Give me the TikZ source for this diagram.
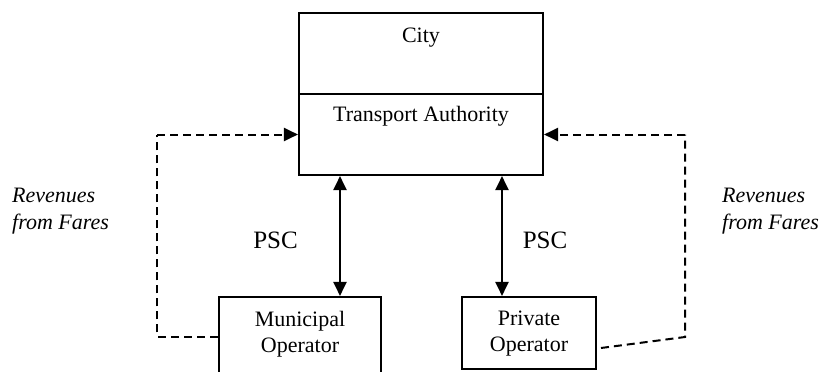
\documentclass[tikz,border=0pt]{standalone}
\usepackage{fontspec}
\setmainfont{Liberation Serif}
\usetikzlibrary{arrows.meta,calc}
\begin{document}
\begin{tikzpicture}[x=1pt,y=-1pt,
  box/.style={draw,line width=2.1pt,rectangle,inner sep=0pt},
  txt/.style={font=\fontsize{22}{26}\selectfont,inner sep=0pt},
  btxt/.style={font=\fontsize{25}{30}\selectfont,inner sep=0pt},
  itxt/.style={font=\fontsize{22}{27}\selectfont\itshape,inner sep=0pt,align=left},
  dline/.style={line width=2pt,dash pattern=on 8pt off 5pt},
  tip/.style={-{Triangle[length=14pt,width=13pt]}},
  dtip/.style={{Triangle[length=14pt,width=13pt]}-{Triangle[length=14pt,width=13pt]}}]
\clip (0,0) rectangle (823,372);
\useasboundingbox (0,0) rectangle (823,372);
% top boxes
\node[box,minimum width=244pt,minimum height=81pt] (city) at (421,53.5) {};
\node[box,minimum width=244pt,minimum height=81pt] (ta) at (421,134.5) {};
\node[txt] (citylbl) at (421,38) {City};
\node[txt] (talbl) at (421,116) {Transport Authority};
% bottom boxes
\node[box,minimum width=162pt,minimum height=79pt] (muni) at (300,336.5) {};
\node[txt,align=center] (munilbl) at (300,334) {Municipal\\[0pt]Operator};
\node[box,minimum width=134pt,minimum height=72pt] (priv) at (529,333) {};
\node[txt,align=center] (privlbl) at (529,334) {Private\\[0pt]Operator};
% PSC arrows
\coordinate (a1t) at (340,175);
\coordinate (a1b) at (340,297);
\coordinate (a2t) at (502,175);
\coordinate (a2b) at (502,297);
\draw[line width=2pt,dtip] (ta.south -| a1t) -- (muni.north -| a1b);
\draw[line width=2pt,dtip] (ta.south -| a2t) -- (priv.north -| a2b);
\node[btxt] (psc1) at (275.5,240) {PSC};
\node[btxt] (psc2) at (545,240) {PSC};
% revenue flows
\coordinate (l1) at (157,336.5);
\coordinate (l2) at (157,134.5);
\draw[dline] (muni.west) -- (l1) -- (l2);
\draw[tip,dline] (l2) -- (ta.west);
\coordinate (r0) at (601,348);
\coordinate (r1) at (685,337);
\coordinate (r2) at (685,134.5);
\draw[dline] (r0) -- (r1) -- (r2);
\draw[tip,dline] (r2) -- (ta.east);
\node[itxt,anchor=west] (rev1) at (12,211) {Revenues\\from Fares};
\node[itxt,anchor=west] (rev2) at (722,211) {Revenues\\from Fares};
\end{tikzpicture}
\end{document}
